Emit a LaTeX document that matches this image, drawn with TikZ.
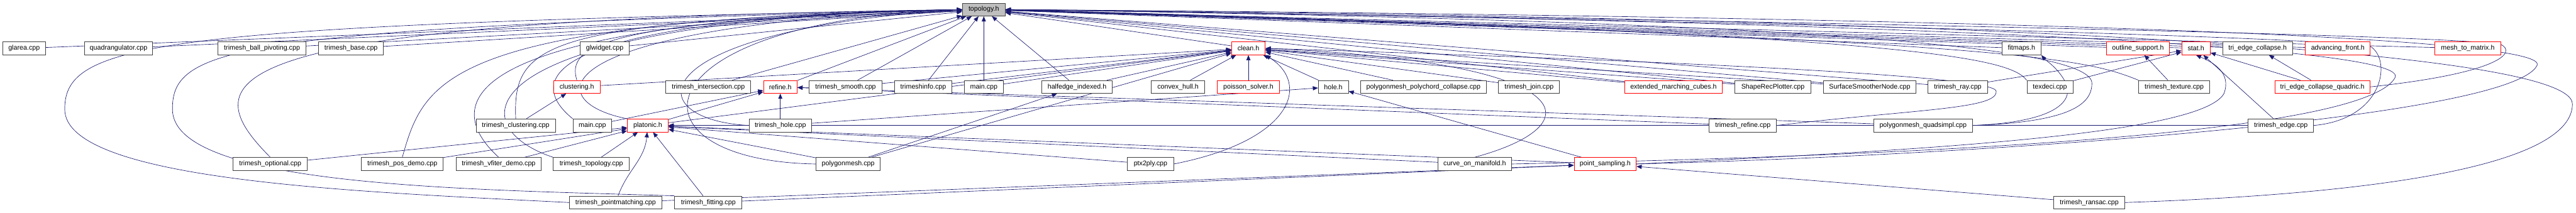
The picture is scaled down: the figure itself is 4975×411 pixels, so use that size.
\documentclass[tikz,border=0pt]{standalone}
\usepackage{fontspec}
\setmainfont{Liberation Sans}
\usetikzlibrary{arrows.meta}
\definecolor{edgeblue}{HTML}{191970}
\definecolor{nodegray}{HTML}{BFBFBF}
\definecolor{nodered}{HTML}{FF0000}
\definecolor{nodeline}{HTML}{404040}
\pgfdeclarelayer{back}
\pgfsetlayers{back,main}

\begin{document}
\begin{tikzpicture}[x=1pt,y=1pt,
  src/.style={draw=nodeline,fill=white,line width=1pt,minimum height=25pt,inner sep=1pt,font=\fontsize{13}{15}\selectfont},
  hdr/.style={src,draw=nodered},
  inc/.style={edgeblue,line width=0.8pt,-{Triangle[length=10pt,width=8pt]}}]
  \useasboundingbox (0,0) rectangle (4975,411);

  \node[src,fill=nodegray,minimum width=83pt] (topo) at (1900,392.5) {topology.h};

  \node[src,minimum width=83pt] (glarea) at (46.5,317.5) {glarea.cpp};
  \node[src,minimum width=132pt] (quadr) at (229,317.5) {quadrangulator.cpp};
  \node[src,minimum width=170pt] (ballpiv) at (506,317.5) {trimesh\_ball\_pivoting.cpp};
  \node[src,minimum width=125pt] (tbase) at (678,317.5) {trimesh\_base.cpp};
  \node[src,minimum width=95pt] (glwidget) at (1168,317.5) {glwidget.cpp};
  \node[hdr,minimum width=65pt] (clean) at (2411,317.5) {clean.h};
  \node[src,minimum width=76pt] (fitmaps) at (3904,317.5) {fitmaps.h};
  \node[hdr,minimum width=122pt] (outline) at (4129,317.5) {outline\_support.h};
  \node[hdr,minimum width=55pt] (stat) at (4241,317.5) {stat.h};
  \node[src,minimum width=135pt] (tec) at (4360,317.5) {tri\_edge\_collapse.h};
  \node[hdr,minimum width=125pt] (advfront) at (4515,317.5) {advancing\_front.h};
  \node[hdr,minimum width=127pt] (meshmat) at (4766,317.5) {mesh\_to\_matrix.h};

  \node[hdr,minimum width=90pt] (clusth) at (1114,243) {clustering.h};
  \node[src,minimum width=164pt] (tinter) at (1368,243) {trimesh\_intersection.cpp};
  \node[hdr,minimum width=65pt] (refine) at (1507,243) {refine.h};
  \node[src,minimum width=140pt] (tsmooth) at (1633,243) {trimesh\_smooth.cpp};
  \node[src,minimum width=111pt] (tinfo) at (1783,243) {trimeshinfo.cpp};
  \node[src,minimum width=75pt] (mainb) at (1900,243) {main.cpp};
  \node[src,minimum width=136pt] (halfedge) at (2080,243) {halfedge\_indexed.h};
  \node[src,minimum width=103pt] (chull) at (2275,243) {convex\_hull.h};
  \node[hdr,minimum width=121pt] (poisson) at (2411,243) {poisson\_solver.h};
  \node[src,minimum width=58pt] (holeh) at (2575,243) {hole.h};
  \node[src,minimum width=243pt] (polychord) at (2749,243) {polygonmesh\_polychord\_collapse.cpp};
  \node[src,minimum width=118pt] (tjoin) at (2953,243) {trimesh\_join.cpp};
  \node[hdr,minimum width=189pt] (extmc) at (3232,243) {extended\_marching\_cubes.h};
  \node[src,minimum width=147pt] (shaperec) at (3424,243) {ShapeRecPlotter.cpp};
  \node[src,minimum width=179pt] (surfsm) at (3611,243) {SurfaceSmootherNode.cpp};
  \node[src,minimum width=115pt] (tray) at (3781,243) {trimesh\_ray.cpp};
  \node[src,minimum width=89pt] (texdeci) at (3959,243) {texdeci.cpp};
  \node[src,minimum width=137pt] (ttexture) at (4199,243) {trimesh\_texture.cpp};
  \node[hdr,minimum width=183pt] (quadric) at (4485,243) {tri\_edge\_collapse\_quadric.h};

  \node[src,minimum width=153pt] (tclust) at (996,168.5) {trimesh\_clustering.cpp};
  \node[src,minimum width=75pt] (mainc) at (1144,168.5) {main.cpp};
  \node[hdr,minimum width=79pt] (platonic) at (1251,168.5) {platonic.h};
  \node[src,minimum width=121pt] (thole) at (1507,168.5) {trimesh\_hole.cpp};
  \node[src,minimum width=130pt] (trefine) at (3366,168.5) {trimesh\_refine.cpp};
  \node[src,minimum width=191pt] (quadsimpl) at (3714,168.5) {polygonmesh\_quadsimpl.cpp};
  \node[src,minimum width=126pt] (tedge) at (4405,168.5) {trimesh\_edge.cpp};

  \node[src,minimum width=143pt] (topt) at (522,94) {trimesh\_optional.cpp};
  \node[src,minimum width=158pt] (posdemo) at (777,94) {trimesh\_pos\_demo.cpp};
  \node[src,minimum width=165pt] (vfiter) at (963,94) {trimesh\_vfiter\_demo.cpp};
  \node[src,minimum width=147pt] (ttopo) at (1142,94) {trimesh\_topology.cpp};
  \node[src,minimum width=124pt] (polymesh) at (1638,94) {polygonmesh.cpp};
  \node[src,minimum width=89pt] (ptx) at (2222,94) {ptx2ply.cpp};
  \node[src,minimum width=142pt] (curvem) at (2848,94) {curve\_on\_manifold.h};
  \node[hdr,minimum width=120pt] (psamp) at (3100,94) {point\_sampling.h};

  \node[src,minimum width=179pt] (pmatch) at (1189,19.5) {trimesh\_pointmatching.cpp};
  \node[src,minimum width=130pt] (tfit) at (1368,19.5) {trimesh\_fitting.cpp};
  \node[src,minimum width=137pt] (ransac) at (4035,19.5) {trimesh\_ransac.cpp};

  \begin{pgfonlayer}{back}
  \foreach \s in {glarea,quadr,ballpiv,tbase,glwidget,clean,fitmaps,outline,stat,tec,advfront,meshmat,tinter,refine,tsmooth,tinfo,mainb,halfedge,extmc,shaperec,surfsm,tray}
    \draw[inc] (\s) -- (topo);
  \foreach \s in {clusth,tsmooth,tinfo,mainb,halfedge,chull,poisson,platonic,polymesh,holeh,polychord,tjoin,extmc,shaperec,surfsm}
    \draw[inc] (\s) -- (clean);
  \foreach \s in {topt,posdemo,vfiter,ttopo,polymesh,tfit,ptx,trefine,curvem,psamp,tedge}
    \draw[inc] (\s) -- (platonic);
  \foreach \s in {mainc,platonic,thole,trefine,quadsimpl}
    \draw[inc] (\s) -- (refine);
  \foreach \s in {tray,texdeci,tedge,quadric}
    \draw[inc] (\s) -- (stat);
  \foreach \s in {pmatch,tfit,ransac}
    \draw[inc] (\s) -- (psamp);
  \foreach \s in {thole,psamp}
    \draw[inc] (\s) -- (holeh);
  \draw[inc] (tclust) -- (clusth);
  \draw[inc] (polymesh) -- (halfedge);
  \draw[inc] (ttexture) -- (outline);
  \draw[inc] (quadric) -- (tec);
  \draw[inc] (pmatch) to[out=70,in=-95] (platonic);

  \draw[inc] (clusth.north) .. controls (1095,320) and (1150,372) .. (topo.west);
  \draw[inc] (tclust.north) .. controls (990,330) and (1050,370) .. (topo.west);
  \draw[inc] (mainc.north west) .. controls (1010,260) and (1050,375) .. (topo.west);
  \draw[inc] (platonic.north west) .. controls (1040,215) and (1040,362) .. (topo.west);
  \draw[inc] (thole.west) .. controls (1230,180) and (1230,352) .. (topo.west);
  \draw[inc] (polymesh.west) .. controls (1200,100) and (1220,370) .. (topo.west);
  \draw[inc] (topt.north) .. controls (370,260) and (390,372) .. (topo.west);
  \draw[inc] (posdemo.north) .. controls (820,260) and (860,372) .. (topo.west);
  \draw[inc] (vfiter.north) .. controls (850,210) and (870,372) .. (topo.west);
  \draw[inc] (ttopo.north west) .. controls (880,170) and (900,372) .. (topo.west);
  \draw[inc] (pmatch.west) .. controls (700,40) and (125,60) .. (125,200) .. controls (125,330) and (300,362) .. (topo.west);
  \draw[inc] (tfit.north west) .. controls (900,45) and (333,50) .. (333,200) .. controls (333,320) and (450,357) .. (topo.west);

  \draw[inc] (texdeci.north west) .. controls (3880,300) and (3700,345) .. (topo.east);
  \draw[inc] (ttexture.north west) .. controls (4020,300) and (3900,332) .. (topo.east);
  \draw[inc] (quadsimpl.east) .. controls (4000,175) and (4040,210) .. (4040,250) .. controls (4040,320) and (3500,370) .. (topo.east);
  \draw[inc] (quadsimpl.east) .. controls (3970,175) and (4005,215) .. (3990,250) .. controls (3975,280) and (3950,295) .. (fitmaps.south east);
  \draw[inc] (trefine.east) .. controls (3700,200) and (3860,200) .. (3855,235) .. controls (3850,270) and (3000,300) .. (clean.east);
  \draw[inc] (quadric.east) .. controls (4830,270) and (4860,310) .. (4830,325) .. controls (4700,350) and (2500,385) .. (topo.east);
  \draw[inc] (tedge.east) .. controls (4600,180) and (4620,290) .. (4580,320) .. controls (4500,345) and (2600,385) .. (topo.east);
  \draw[inc] (curvem.east) .. controls (3700,110) and (4560,150) .. (4625,260) .. controls (4680,340) and (3000,380) .. (topo.east);
  \draw[inc] (psamp.east) .. controls (3800,110) and (4850,180) .. (4900,285) .. controls (4930,360) and (3000,385) .. (topo.east);
  \draw[inc] (ransac.east) .. controls (4700,40) and (4968,110) .. (4968,210) .. controls (4968,330) and (3500,380) .. (topo.east);
  \draw[inc] (psamp.east) .. controls (3700,120) and (4250,150) .. (4295,230) .. controls (4310,270) and (4275,290) .. (stat.south);
  \draw[inc] (curvem.north) .. controls (3080,170) and (3060,290) .. (clean.east);
  \draw[inc] (ptx.east) .. controls (2500,140) and (2530,250) .. (clean.south east);
  \end{pgfonlayer}
\end{tikzpicture}
\end{document}
